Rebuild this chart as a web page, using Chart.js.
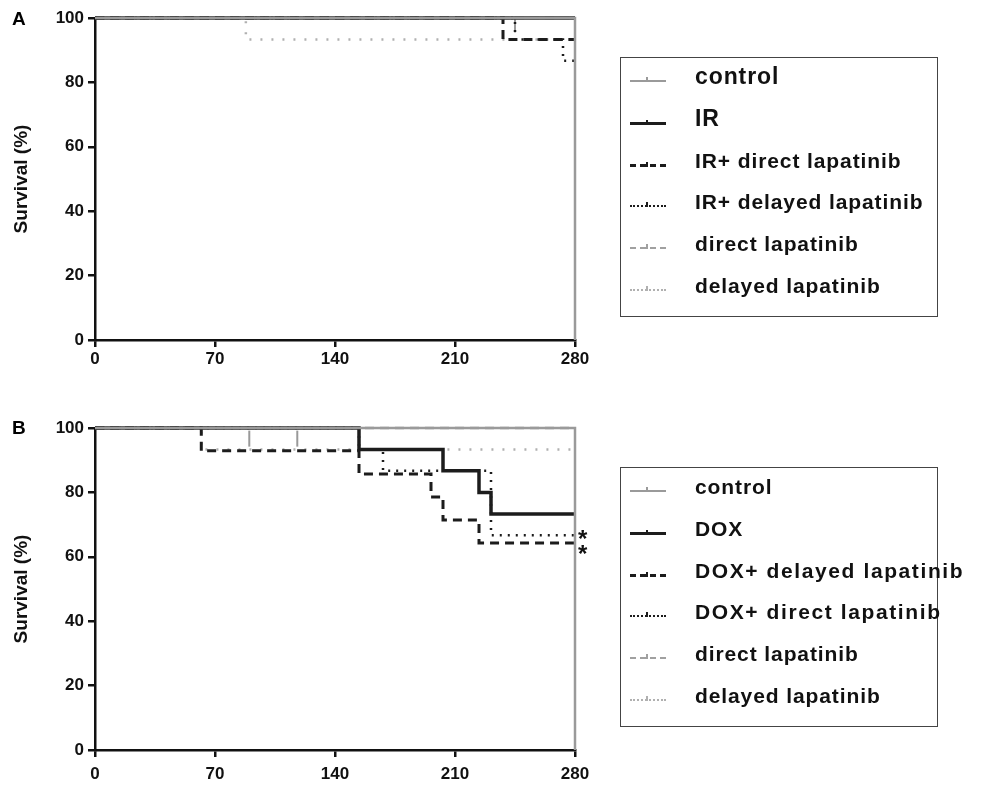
<!DOCTYPE html>
<html>
<head>
<meta charset="utf-8">
<script src="https://cdn.jsdelivr.net/npm/chart.js@4.4.1/dist/chart.umd.min.js"></script>
<style>
  body { margin: 0; background: #fff; font-family: "Liberation Sans", Arial, sans-serif; }
  #wrap { position: relative; width: 987px; height: 785px; overflow: hidden; }
  canvas { position: absolute; left: 0; }
  .letter { position: absolute; left: 12px; font-weight: bold; font-size: 19px; }
  .legend { position: absolute; left: 620px; width: 318px; border: 1.5px solid #444; box-sizing: border-box; }
  .row { position: absolute; left: 0; height: 30px; }
  .sample { position: absolute; left: 9px; top: 14px; width: 36px; height: 0; }
  .tick { position: absolute; left: 16px; top: -5px; width: 2px; height: 5px; }
  .label { position: absolute; left: 74px; top: -1px; font-size: 21px; font-weight: bold; white-space: nowrap; color: #111; letter-spacing: 0.9px; }
</style>
</head>
<body>
<div id="wrap">
  <canvas id="chartA" width="987" height="392" style="top:0"></canvas>
  <canvas id="chartB" width="987" height="375" style="top:410px"></canvas>
  <div class="letter" style="top:8px">A</div>
  <div class="letter" style="top:417px">B</div>
  <div class="legend" id="legendA" style="top:57px;height:260px"></div>
  <div class="legend" id="legendB" style="top:467px;height:260px"></div>
</div>
<script>
// x = days, y = survival (%)
const xTicks = [0, 70, 140, 210, 280];
const yTicks = [0, 20, 40, 60, 80, 100];

// panel A
const labelsA = ["control", "IR", "IR+ direct lapatinib", "IR+ delayed lapatinib", "direct lapatinib", "delayed lapatinib"];
const daysA_control = [0, 280, 280];
const survA_control = [100, 100, 0];
const daysA_ir = [0, 280];
const survA_ir = [100, 100];
const daysA_irDirect = [0, 238, 280];
const survA_irDirect = [100, 93.3, 93.3];
const daysA_irDelayed = [0, 245, 273, 280];
const survA_irDelayed = [100, 93.3, 86.7, 86.7];
const daysA_direct = [0, 280];
const survA_direct = [100, 100];
const daysA_delayed = [0, 88, 280];
const survA_delayed = [100, 93.3, 93.3];
const censorDaysA = [245];
const censorSurvA = [98];

// panel B
const labelsB = ["control", "DOX", "DOX+ delayed lapatinib", "DOX+ direct lapatinib", "direct lapatinib", "delayed lapatinib"];
const daysB_control = [0, 280, 280];
const survB_control = [100, 100, 0];
const daysB_dox = [0, 154, 203, 224, 231, 280];
const survB_dox = [100, 93.3, 86.7, 80, 73.3, 73.3];
const daysB_doxDelayed = [0, 62, 154, 196, 203, 224, 280];
const survB_doxDelayed = [100, 92.9, 85.7, 78.6, 71.4, 64.3, 64.3];
const daysB_doxDirect = [0, 154, 168, 231, 280];
const survB_doxDirect = [100, 93.3, 86.7, 66.7, 66.7];
const daysB_direct = [0, 280];
const survB_direct = [100, 100];
const daysB_delayed = [0, 62, 280];
const survB_delayed = [100, 93.3, 93.3];
const censorDaysB = [90, 118];
const censorSurvB = [96.7, 96.7];
const starsB = [66.5, 62];

const styles = [
  { color: "#9a9a9a", width: 2.5, dash: [] },
  { color: "#1c1c1c", width: 3.5, dash: [] },
  { color: "#1c1c1c", width: 3, dash: [9, 6] },
  { color: "#1c1c1c", width: 2.5, dash: [2, 6] },
  { color: "#a0a0a0", width: 2.5, dash: [9, 6] },
  { color: "#b0b0b0", width: 2.5, dash: [2, 9] }
];

function pts(xs, ys) {
  return xs.map((x, i) => ({ x: x, y: ys[i] }));
}

function makeDatasets(labels, series, censor) {
  const sets = series.map((s, i) => ({
    label: labels[i],
    data: pts(s[0], s[1]),
    borderColor: styles[i].color,
    borderWidth: styles[i].width,
    borderDash: styles[i].dash,
    stepped: true,
    pointRadius: 0,
    fill: false,
    clip: 8
  }));
  sets.push({
    label: "censored",
    data: pts(censor[0], censor[1]),
    showLine: false,
    pointStyle: "line",
    rotation: 90,
    pointRadius: 8,
    pointBorderWidth: 2,
    pointBorderColor: "#999",
    borderColor: "#999"
  });
  return sets;
}

const starPlugin = {
  id: "stars",
  afterDatasetsDraw(chart, args, opts) {
    if (!opts.values) return;
    const { ctx, scales } = chart;
    ctx.save();
    ctx.fillStyle = "#111";
    ctx.font = "bold 24px 'Liberation Sans', Arial";
    ctx.textAlign = "left";
    ctx.textBaseline = "middle";
    opts.values.forEach(v => {
      ctx.fillText("*", scales.x.getPixelForValue(280) + 3, scales.y.getPixelForValue(v) + 5);
    });
    ctx.restore();
  }
};

function makeChart(id, labels, series, censor, stars, xAxisHeight, padBottom, xPad) {
  return new Chart(document.getElementById(id), {
    type: "line",
    data: { datasets: makeDatasets(labels, series, censor) },
    plugins: [starPlugin],
    options: {
      responsive: false,
      animation: false,
      layout: { padding: { left: 0, top: 18, right: 412, bottom: padBottom } },
      plugins: { legend: { display: false }, tooltip: { enabled: false }, stars: { values: stars } },
      scales: {
        x: {
          type: "linear",
          min: 0, max: 280,
          afterBuildTicks: s => { s.ticks = xTicks.map(v => ({ value: v })); },
          afterFit: s => { s.height = xAxisHeight; },
          grid: { drawOnChartArea: false, color: "#111", lineWidth: 2.5, tickLength: 7 },
          border: { color: "#111", width: 2.5 },
          ticks: { color: "#111", font: { size: 17, weight: "bold", family: "'Liberation Sans', Arial" }, padding: xPad, maxRotation: 0 }
        },
        y: {
          min: 0, max: 100,
          afterBuildTicks: s => { s.ticks = yTicks.map(v => ({ value: v })); },
          afterFit: s => { s.width = 95; },
          grid: { drawOnChartArea: false, color: "#111", lineWidth: 2.5, tickLength: 7 },
          border: { color: "#111", width: 2.5 },
          ticks: { color: "#111", font: { size: 17, weight: "bold", family: "'Liberation Sans', Arial" }, padding: 4 },
          title: { display: true, text: "Survival (%)", color: "#111", font: { size: 19, weight: "bold", family: "'Liberation Sans', Arial" }, padding: { top: 10, bottom: 0 } }
        }
      }
    }
  });
}

makeChart("chartA", labelsA, [
  [daysA_control, survA_control], [daysA_ir, survA_ir], [daysA_irDirect, survA_irDirect],
  [daysA_irDelayed, survA_irDelayed], [daysA_direct, survA_direct], [daysA_delayed, survA_delayed]
], [censorDaysA, censorSurvA], null, 42, 10, 2);

makeChart("chartB", labelsB, [
  [daysB_control, survB_control], [daysB_dox, survB_dox], [daysB_doxDelayed, survB_doxDelayed],
  [daysB_doxDirect, survB_doxDirect], [daysB_direct, survB_direct], [daysB_delayed, survB_delayed]
], [censorDaysB, censorSurvB], starsB, 35, 0, 7);

function buildLegend(id, labels, bigRows, wideRows) {
  const box = document.getElementById(id);
  labels.forEach((text, i) => {
    const row = document.createElement("div");
    row.className = "row";
    row.style.top = (8 + i * 41.8) + "px";
    const sample = document.createElement("div");
    sample.className = "sample";
    const st = styles[i];
    const lineStyle = st.dash.length === 0 ? "solid" : (st.dash[0] > 4 ? "dashed" : "dotted");
    sample.style.borderTop = Math.min(st.width, 3) + "px " + lineStyle + " " + st.color;
    const tick = document.createElement("div");
    tick.className = "tick";
    tick.style.background = st.color;
    sample.appendChild(tick);
    const label = document.createElement("div");
    label.className = "label";
    label.textContent = text;
    if (bigRows.includes(i)) { label.style.fontSize = "23px"; label.style.top = "-3px"; }
    if (wideRows.includes(i)) { label.style.letterSpacing = "1.6px"; }
    row.appendChild(sample);
    row.appendChild(label);
    box.appendChild(row);
  });
}
buildLegend("legendA", labelsA, [0, 1], []);
buildLegend("legendB", labelsB, [], [2, 3]);
</script>
</body>
</html>
